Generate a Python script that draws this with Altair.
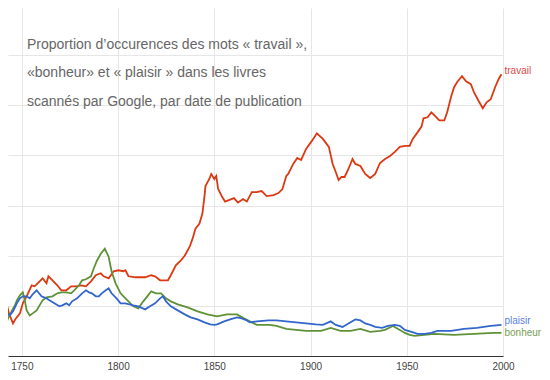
import altair as alt
import pandas as pd

# ---- data (value unit = one horizontal gridline) ----
travail_years = [1738.7, 1742.3, 1743.3, 1745.4, 1746.9, 1749.0, 1750.5, 1752.5, 1755.1, 1756.6,
                 1758.2, 1760.8, 1762.8, 1763.8, 1765.9, 1768.4, 1770.5, 1773.1, 1775.6, 1778.2,
                 1780.8, 1783.3, 1785.9, 1788.4, 1791.0, 1792.5, 1795.1, 1797.7, 1800.2, 1802.8,
                 1803.8, 1805.4, 1809.0, 1814.1, 1817.2, 1819.2, 1821.8, 1825.9, 1827.4, 1830.0,
                 1832.5, 1834.6, 1837.2, 1838.7, 1840.2, 1842.3, 1843.8, 1844.9, 1845.4, 1847.4,
                 1848.4, 1850.0, 1851.0, 1852.0, 1854.1, 1855.6, 1858.2, 1860.2, 1862.3, 1864.9,
                 1866.9, 1869.5, 1872.0, 1874.6, 1877.2, 1880.8, 1883.3, 1885.4, 1887.4, 1888.4,
                 1891.0, 1893.1, 1895.1, 1897.7, 1900.7, 1903.3, 1906.4, 1909.5, 1911.5, 1913.1,
                 1914.6, 1916.1, 1917.7, 1919.7, 1921.8, 1923.3, 1925.9, 1928.4, 1931.0, 1933.6,
                 1936.1, 1938.7, 1941.3, 1943.8, 1946.4, 1949.0, 1951.5, 1953.1, 1955.6, 1957.7,
                 1958.7, 1960.8, 1962.8, 1964.9, 1966.9, 1969.5, 1971.0, 1973.1, 1974.6, 1976.1,
                 1978.7, 1980.8, 1983.3, 1984.9, 1987.4, 1989.5, 1991.5, 1993.6, 1996.1, 1997.7,
                 1999.2]
travail_vals = [1.15, 1.01, 0.85, 0.65, 0.75, 0.85, 1.05, 1.19, 1.41, 1.39,
                1.45, 1.55, 1.45, 1.59, 1.51, 1.41, 1.31, 1.31, 1.39, 1.39,
                1.41, 1.39, 1.49, 1.61, 1.65, 1.59, 1.55, 1.69, 1.71, 1.69,
                1.71, 1.59, 1.57, 1.57, 1.61, 1.59, 1.51, 1.51, 1.61, 1.81,
                1.90, 2.00, 2.18, 2.34, 2.54, 2.64, 2.84, 3.19, 3.39, 3.53,
                3.63, 3.53, 3.59, 3.33, 3.17, 3.08, 3.12, 3.15, 3.06, 3.13,
                3.08, 3.27, 3.27, 3.29, 3.19, 3.21, 3.25, 3.33, 3.59, 3.63,
                3.83, 3.95, 3.91, 4.13, 4.29, 4.44, 4.33, 4.17, 3.83, 3.67,
                3.51, 3.57, 3.57, 3.73, 3.93, 3.83, 3.79, 3.63, 3.55, 3.63,
                3.85, 3.93, 3.99, 4.07, 4.17, 4.19, 4.19, 4.33, 4.46, 4.58,
                4.74, 4.76, 4.86, 4.78, 4.70, 4.70, 4.86, 5.18, 5.36, 5.46,
                5.58, 5.48, 5.42, 5.26, 5.08, 4.94, 5.06, 5.12, 5.38, 5.52,
                5.62]

bonheur_years = [1738.7, 1741.3, 1742.8, 1744.9, 1746.4, 1747.4, 1749.0, 1750.5, 1751.5, 1752.5,
                 1754.1, 1755.6, 1757.7, 1759.2, 1760.8, 1762.8, 1765.9, 1768.4, 1770.5, 1773.1,
                 1775.6, 1777.2, 1779.7, 1781.3, 1783.3, 1785.9, 1787.4, 1789.0, 1791.0, 1793.1,
                 1795.1, 1796.6, 1798.7, 1801.3, 1802.8, 1805.4, 1807.9, 1810.5, 1813.1, 1815.6,
                 1817.2, 1819.7, 1822.3, 1824.9, 1827.4, 1831.0, 1836.1, 1841.3, 1846.4, 1851.5,
                 1856.6, 1861.8, 1865.4, 1868.4, 1872.0, 1878.7, 1882.3, 1887.4, 1892.5, 1897.7,
                 1905.4, 1910.5, 1915.6, 1920.8, 1925.9, 1931.0, 1936.1, 1938.7, 1942.8, 1946.4,
                 1949.0, 1951.5, 1954.1, 1959.2, 1964.3, 1974.6, 1984.9, 1995.1, 1999.2]
bonheur_vals = [0.42, 0.60, 0.75, 0.91, 1.01, 1.11, 1.21, 1.27, 1.11, 0.91,
                0.81, 0.85, 0.91, 1.01, 1.11, 1.17, 1.19, 1.25, 1.27, 1.27,
                1.25, 1.31, 1.41, 1.51, 1.53, 1.59, 1.75, 1.90, 2.04, 2.14,
                1.98, 1.69, 1.45, 1.25, 1.19, 1.09, 0.99, 0.95, 1.09, 1.21,
                1.29, 1.25, 1.25, 1.15, 1.09, 1.03, 0.97, 0.89, 0.83, 0.79,
                0.83, 0.83, 0.75, 0.69, 0.62, 0.62, 0.60, 0.54, 0.52, 0.50,
                0.50, 0.56, 0.50, 0.50, 0.54, 0.48, 0.50, 0.52, 0.60, 0.52,
                0.46, 0.42, 0.40, 0.42, 0.44, 0.42, 0.44, 0.46, 0.46]

plaisir_years = [1738.7, 1740.2, 1742.3, 1743.8, 1745.4, 1747.4, 1749.0, 1750.5, 1752.5, 1754.1,
                 1755.6, 1757.7, 1760.2, 1762.8, 1764.3, 1766.9, 1769.5, 1771.0, 1773.1, 1774.6,
                 1776.1, 1778.7, 1781.3, 1783.3, 1784.9, 1786.4, 1788.4, 1790.0, 1791.5, 1793.6,
                 1795.1, 1796.6, 1799.2, 1801.3, 1803.8, 1807.9, 1810.5, 1814.1, 1816.6, 1819.2,
                 1821.8, 1823.3, 1824.9, 1827.4, 1831.0, 1834.6, 1837.7, 1841.3, 1844.9, 1847.9,
                 1850.0, 1851.5, 1855.1, 1858.2, 1861.8, 1864.3, 1866.9, 1868.4, 1872.0, 1878.2,
                 1882.3, 1887.4, 1892.5, 1897.7, 1902.8, 1906.4, 1910.5, 1913.1, 1916.6, 1919.7,
                 1923.3, 1925.9, 1928.4, 1931.0, 1933.6, 1937.2, 1940.2, 1943.8, 1946.4, 1949.0,
                 1952.5, 1955.6, 1959.2, 1962.8, 1965.9, 1973.1, 1979.7, 1986.4, 1993.6, 1999.2]
plaisir_vals = [0.83, 0.81, 0.85, 0.81, 0.89, 1.05, 1.15, 1.19, 1.19, 1.15,
                1.23, 1.31, 1.19, 1.15, 1.11, 1.05, 0.99, 1.01, 1.05, 1.01,
                1.09, 1.15, 1.25, 1.31, 1.27, 1.25, 1.19, 1.19, 1.25, 1.31,
                1.35, 1.25, 1.15, 1.05, 1.05, 1.01, 0.99, 0.93, 0.99, 1.05,
                1.15, 1.19, 1.09, 0.99, 0.91, 0.83, 0.77, 0.73, 0.67, 0.63,
                0.62, 0.63, 0.69, 0.73, 0.77, 0.75, 0.71, 0.67, 0.69, 0.71,
                0.71, 0.69, 0.67, 0.65, 0.63, 0.62, 0.69, 0.62, 0.58, 0.65,
                0.73, 0.71, 0.65, 0.62, 0.58, 0.56, 0.60, 0.62, 0.60, 0.52,
                0.48, 0.44, 0.44, 0.46, 0.50, 0.50, 0.54, 0.56, 0.60, 0.62]

series_names = ["travail", "plaisir", "bonheur"]
line_colors = ["#dc3912", "#3366cc", "#5f9237"]
label_colors = ["#e04a4a", "#5a7fe0", "#7a9e55"]
label_dy = [-3, -4, 0]

title_lines = ["Proportion d\u2019occurences des mots \u00ab travail \u00bb,",
               "\u00abbonheur\u00bb et \u00ab plaisir \u00bb dans les livres",
               "scann\u00e9s par Google, par date de publication"]
x_ticks = [1750, 1800, 1850, 1900, 1950, 2000]

# ---- tables ----
rows = []
for name, ys, vs in [("travail", travail_years, travail_vals),
                     ("bonheur", bonheur_years, bonheur_vals),
                     ("plaisir", plaisir_years, plaisir_vals)]:
    for y, v in zip(ys, vs):
        rows.append({"series": name, "year": y, "value": v})
df = pd.DataFrame(rows)

last = {"travail": (travail_years[-1], travail_vals[-1]),
        "plaisir": (plaisir_years[-1], plaisir_vals[-1]),
        "bonheur": (bonheur_years[-1], bonheur_vals[-1])}

x_scale = alt.Scale(domain=[1742.8, 2000], nice=False, zero=False)
y_scale = alt.Scale(domain=[0, 6.94], nice=False, zero=True)

x_enc = alt.X("year:Q", scale=x_scale,
              axis=alt.Axis(values=x_ticks, format="d", title=None, ticks=False,
                            labelPadding=5, labelFontSize=10, labelColor="#444444",
                            labelFont="Liberation Sans", domainColor="#333333",
                            grid=True, gridColor="#e6e6e6", labelFlush=False))
y_enc = alt.Y("value:Q", scale=y_scale,
              axis=alt.Axis(values=[1, 2, 3, 4, 5, 6], labels=False, ticks=False,
                            domain=False, title=None, grid=True, gridColor="#e6e6e6"))

lines = alt.Chart(df).mark_line(strokeWidth=1.8, clip=True).encode(
    x=x_enc, y=y_enc,
    color=alt.Color("series:N",
                    scale=alt.Scale(domain=series_names, range=line_colors),
                    legend=None),
    order="year:Q",
)

layers = [lines]
for name, lc, dy in zip(series_names, label_colors, label_dy):
    yr, vl = last[name]
    lab_df = pd.DataFrame([{"year": yr, "value": vl, "label": name}])
    layers.append(
        alt.Chart(lab_df).mark_text(align="left", baseline="middle", dx=3, dy=dy,
                                    fontSize=10, font="Liberation Sans", color=lc)
        .encode(x=alt.X("year:Q", scale=x_scale), y=alt.Y("value:Q", scale=y_scale),
                text="label:N")
    )

for i, t in enumerate(title_lines):
    layers.append(
        alt.Chart(pd.DataFrame({"t": [t]})).mark_text(
            align="left", baseline="alphabetic", fontSize=14,
            font="Liberation Sans", color="#666666")
        .encode(x=alt.value(19), y=alt.value(41 + 28.3 * i), text="t:N")
    )

chart = alt.layer(*layers).properties(
    width=495, height=348, padding=0, background="white"
).configure_view(stroke=None)

chart.save("out.html", embed_options={"renderer": "svg", "actions": False})
